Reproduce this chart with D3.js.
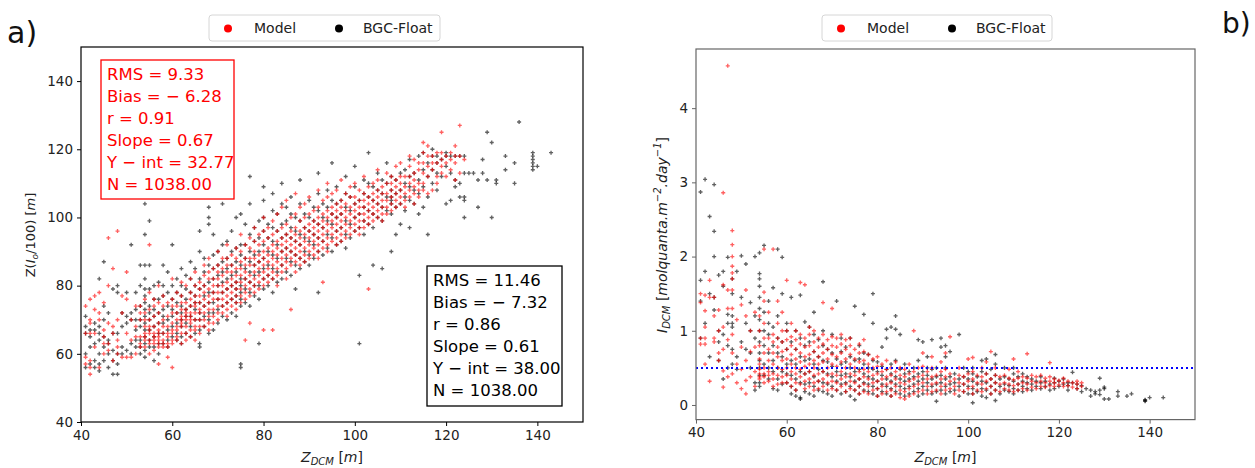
<!DOCTYPE html>
<html lang="en">
<head>
<meta charset="UTF-8">
<script src="https://d3js.org/d3.v7.min.js"></script>
<title>DCM scatter</title>
<style>
  body { margin: 0; background: #fff; }
  svg text { font-family: "DejaVu Sans", sans-serif; }
</style>
</head>
<body>
<svg id="fig" width="1255" height="468"></svg>
<script>
// ---- data: each entry is [Z_DCM, [values at that depth]] ----
const modelA = [
  [41,[57,59,66,74]],[42,[54,56,58,66,69,70,76]],[43,[62,66,73,77]],[44,[56,70,72,78]],
  [45,[60,63,65,67,75]],[46,[61,63,69,80,94]],[47,[58,66,68,85]],[48,[60,62,64,70,96]],
  [49,[59,72,77]],[50,[59,66,76,84]],[51,[59,64,70]],[52,[60,65,68,74]],
  [53,[62,63,65,70,72,74]],[54,[62,64,65,66,68,70,72,76]],[55,[60,63,64,66,67,68,70,73,78,92]],
  [56,[61,63,64,65,66,68,71,74,76]],[57,[57,62,63,64,65,66,67,69,72,75,80]],
  [58,[62,63,64,66,68,70,74,77]],[59,[59,62,63,65,66,68,71,75]],[60,[56,63,64,66,67,69,72,74,76,82]],
  [61,[64,65,67,68,70,72,74,78]],[62,[63,66,68,69,70,71,73,75,77,81]],[63,[64,66,68,70,71,72,73,75,80]],
  [64,[65,67,69,70,71,72,74,76,78,82]],[65,[64,67,68,70,72,74,75,77,80,84]],[66,[66,68,70,72,73,75,77,79,81]],
  [67,[68,70,72,74,76,78,80,83,86]],[68,[67,69,71,73,75,77,79,82,84,88]],[69,[69,71,73,76,78,80,82,85]],
  [70,[70,72,74,76,78,80,82,84,86,90]],[71,[72,74,76,78,80,83,85,88]],[72,[71,73,75,77,79,81,84,86,88,92]],
  [73,[74,76,78,80,82,84,86,89]],[74,[73,75,77,79,81,83,85,88,91]],[75,[75,77,79,81,83,85,87,90,95]],
  [76,[64,76,78,80,82,84,86,88,92]],[77,[69,77,79,81,83,86,88,91,94]],[78,[78,80,82,84,86,88,90,93,97]],
  [79,[79,81,83,85,87,89,92,95]],[80,[67,80,82,84,86,88,90,93,96,100]],[81,[81,83,85,87,89,91,94,97]],
  [82,[67,82,84,86,88,90,92,95,99]],[83,[80,83,85,87,89,91,93,96,101]],[84,[84,86,88,90,92,94,97,103]],
  [85,[82,85,87,89,91,93,95,98,105]],[86,[73,86,88,90,92,94,96,100]],[87,[84,87,89,91,93,95,97,101,107]],
  [88,[86,88,90,92,94,96,99,103]],[89,[87,89,91,93,95,97,100,104]],[90,[88,90,92,94,96,98,101,106]],
  [91,[89,91,93,95,97,99,102]],[92,[88,90,92,94,96,98,100,103,108]],[93,[81,91,93,95,97,99,101,105]],
  [94,[90,92,94,96,98,100,102,106,110]],[95,[93,95,97,99,101,103,107]],[96,[92,94,96,98,100,102,104,108]],
  [97,[93,95,97,99,101,103,105,111]],[98,[94,96,98,100,102,104,107]],[99,[95,97,99,101,103,106,109]],
  [100,[96,98,100,102,104,106,110]],[101,[95,97,99,101,103,105,108]],[102,[97,99,101,103,105,107,112]],
  [103,[79,98,100,102,104,106,109]],[104,[99,101,103,105,107,110]],[105,[100,102,104,106,108,111,114]],
  [106,[99,101,103,105,107,109]],[107,[101,103,105,107,110,113]],[108,[102,104,106,108,110,112]],
  [109,[103,105,107,109,111,115]],[110,[104,106,108,110,112,116]],[111,[103,105,107,109,112]],
  [112,[106,108,110,112,115,118]],[113,[104,107,109,111,113,117]],[114,[106,108,110,114,116]],
  [115,[108,110,113,116,119,122]],[116,[107,112,115,118,121]],[117,[108,114,116,118]],
  [118,[110,112,116,119]],[119,[113,115,117,119,125]],[120,[112,116,118]],[121,[114,117,119]],
  [122,[111,116,118,121]],[123,[113,118,127]],[124,[117]]
];
const floatA = [
  [41,[56,60,66,68,71]],[42,[57,62,65,67]],[43,[56,58,63,67,69]],[44,[55,57,60,64,66,68,82]],
  [45,[58,62,65,70,74,87]],[46,[56,60,63,64,72]],[47,[54,58,61,66,79]],[48,[54,57,60,66,78,80]],
  [49,[60,62,68,72]],[50,[61,69,71,78]],[51,[60,63,70,72,92]],[52,[62,64,67,70,73,78]],
  [53,[60,62,64,68,70,74,80,86]],[54,[59,61,63,65,67,69,71,73,75,77,79,82,86,95,104,107]],
  [55,[62,64,67,70,72,74,79,86,99]],[56,[58,62,65,68,71,73,76,80]],[57,[60,63,66,69,72,76,81]],
  [58,[63,66,69,71,73,77,80,86]],[59,[62,64,67,70,74,78,84]],[60,[65,68,71,73,76,80,92]],
  [61,[64,66,69,72,75,78,82]],[62,[63,65,68,70,72,74,77,80,85]],[63,[66,69,71,73,76,79,83]],
  [64,[65,68,71,74,78,82,87]],[65,[66,70,73,75,77,80,85]],[66,[62,63,67,70,72,75,79,82,90,96]],
  [67,[68,71,74,77,80,84,88]],[68,[66,70,72,75,78,81,86,98,100,103,106]],[69,[67,72,75,78,82,85,89,95]],
  [70,[69,73,76,80,83,86,90]],[71,[71,74,78,81,84,87,92,104]],[72,[70,75,79,82,85,88,93]],
  [73,[72,76,80,83,86,90,96]],[74,[71,75,77,79,81,84,87,91,100]],[75,[56,57,74,76,78,80,82,86,89,92,101]],
  [76,[75,79,82,85,88,92,98]],[77,[74,78,81,84,87,90,95,104,112]],[78,[77,80,83,86,89,93,97]],
  [79,[63,76,80,84,87,90,94,99]],[80,[79,82,85,88,92,96,100,105,109]],[81,[80,83,86,90,94,98]],
  [82,[78,82,85,89,93,97,102,107]],[83,[81,84,88,92,96,101]],[84,[82,86,90,94,98,104,110]],
  [85,[84,88,91,95,99,103]],[86,[83,87,90,94,97,101,106]],[87,[79,86,89,93,96,100]],
  [88,[85,88,92,95,99,104,111]],[89,[87,90,94,97,101]],[90,[86,89,93,96,100,105]],
  [91,[88,92,95,99,103]],[92,[78,90,94,98,102,107,113]],[93,[89,93,97,100,104]],
  [94,[91,95,99,103,108]],[95,[90,94,98,101,105,116]],[96,[92,96,100,104,109]],
  [97,[93,97,101,105]],[98,[91,95,99,103,107,112]],[99,[94,98,102,106]],
  [100,[96,100,104,109,115]],[101,[63,83,97,101,105]],[102,[95,99,103,107,111]],
  [103,[98,102,106,110,119]],[104,[86,97,101,105,109]],[105,[100,104,108,113]],
  [106,[85,99,103,107,111]],[107,[102,106,110,116]],[108,[90,101,104,105,106,108,112]],
  [109,[95,103,107,111]],[110,[98,104,108,113]],[111,[102,106,110,114]],[112,[97,105,109,112,117]],
  [113,[104,108,113]],[114,[101,107,111,118]],[115,[103,109,114,119]],[116,[95,106,112,116]],
  [117,[110,114,118,120]],[118,[108,113,116,118]],[119,[112,117]],[120,[104,115,118,119]],
  [121,[105,113,118]],[122,[109,111,118]],[123,[106,110,118]],[124,[100,105,106,113,118]],
  [125,[113]],[126,[113]],[127,[103,111]],[128,[113,117]],[129,[111,125]],[130,[100,122]],
  [131,[110,111]],[133,[114,118]],[135,[110,116]],[136,[128]],
  [139,[114,115,116,117,118,119]],[140,[115]],[143,[119]]
];
const modelB = [
  [41,[0.82,0.9,1.38,1.5]],[42,[0.55,0.82,0.9,1.05,1.27,1.48]],[43,[0.32,1.45,1.68]],[44,[0.85,0.9,1.2,1.45]],
  [45,[0.6,0.7,1.0,1.28]],[46,[0.24,0.46,0.75,1.05,1.62,2.86]],[47,[0.38,0.88,1.3,1.55,4.57]],
  [48,[0.42,0.7,0.95,1.3,1.55,1.7,1.78,1.87,2.0,2.16,2.35]],[49,[0.3,0.55,1.15]],[50,[0.22,0.48,0.78,1.35]],
  [51,[0.15,0.33,0.6,1.2,1.55]],[52,[0.38,0.72,1.0]],[53,[0.25,0.45,0.78,1.25]],
  [54,[0.35,0.38,0.42,0.48,0.55,0.62,0.8,1.0,1.2]],[55,[0.3,0.38,0.42,0.5,0.7,0.9,1.1,1.4,1.52,2.1]],
  [56,[0.32,0.4,0.45,0.6,0.75,0.9,1.25]],[57,[0.25,0.35,0.42,0.55,0.7,0.85,0.95,2.1]],
  [58,[0.28,0.4,0.5,0.65,0.78,0.9,1.1,1.4]],[59,[0.3,0.38,0.48,0.6,0.72,0.85,1.0,1.25]],
  [60,[0.3,0.4,0.5,0.62,0.75,0.88,1.0,1.68]],[61,[0.25,0.35,0.45,0.55,0.68,0.8,0.92,1.1]],
  [62,[0.2,0.3,0.42,0.5,0.62,0.75,0.88,1.0]],[63,[0.28,0.38,0.48,0.58,0.7,0.82,0.95,1.65]],
  [64,[0.22,0.32,0.42,0.52,0.65,0.78,0.9,1.62]],[65,[0.25,0.35,0.45,0.55,0.68,0.8,0.95,1.05]],
  [66,[0.2,0.3,0.4,0.5,0.6,0.72,0.85,1.0]],[67,[0.22,0.32,0.42,0.55,0.65,0.78,0.9]],
  [68,[0.25,0.35,0.45,0.58,0.7,0.82,0.95,1.38]],[69,[0.2,0.3,0.4,0.5,0.62,0.75,0.88]],
  [70,[0.22,0.32,0.42,0.55,0.68,0.8,0.92,1.3]],[71,[0.2,0.3,0.4,0.52,0.65,0.78,0.9]],
  [72,[0.25,0.35,0.45,0.58,0.7,0.82,0.95]],[73,[0.18,0.28,0.38,0.5,0.62,0.75,0.88]],
  [74,[0.22,0.32,0.42,0.55,0.68,0.8,0.9]],[75,[0.2,0.3,0.4,0.5,0.62,0.75]],
  [76,[0.15,0.25,0.35,0.45,0.58,0.7,0.82]],[77,[0.18,0.28,0.38,0.48,0.6,0.72,0.88]],
  [78,[0.15,0.25,0.35,0.45,0.55,0.68]],[79,[0.2,0.3,0.4,0.5,0.62]],[80,[0.12,0.22,0.32,0.42,0.52,0.65]],
  [81,[0.15,0.25,0.35,0.45,0.55]],[82,[0.18,0.28,0.38,0.48,0.6]],[83,[0.12,0.2,0.3,0.4,0.5]],
  [84,[0.15,0.25,0.35,0.45,0.58]],[85,[0.1,0.2,0.3,0.4,0.5]],[86,[0.08,0.18,0.28,0.38,0.48]],
  [87,[0.12,0.22,0.32,0.42,0.55]],[88,[0.15,0.25,0.35,0.45,1.0]],[89,[0.18,0.28,0.38,0.5]],
  [90,[0.2,0.3,0.4,0.52,0.7]],[91,[0.15,0.25,0.35,0.45]],[92,[0.18,0.28,0.38,0.5,0.65]],
  [93,[0.2,0.3,0.4]],[94,[0.15,0.25,0.35,0.45,0.58]],[95,[0.2,0.28,0.38,0.48,0.7]],
  [96,[0.22,0.32,0.42,0.92]],[97,[0.15,0.25,0.35]],[98,[0.2,0.3,0.4,0.5]],[99,[0.18,0.28,0.38]],
  [100,[0.22,0.32,0.42,0.62]],[101,[0.15,0.25,0.35,0.45,0.64]],[102,[0.2,0.3,0.4]],
  [103,[0.18,0.28,0.38,0.5]],[104,[0.22,0.32,0.42,0.58]],[105,[0.15,0.25,0.35,0.72]],
  [106,[0.2,0.3,0.4,0.5]],[107,[0.18,0.28,0.38]],[108,[0.22,0.3,0.4]],[109,[0.2,0.28,0.36,0.48]],
  [110,[0.18,0.26,0.34,0.62]],[111,[0.2,0.28,0.36,0.45]],[112,[0.22,0.3,0.38]],[113,[0.2,0.28,0.36,0.69]],
  [114,[0.24,0.32,0.4]],[115,[0.22,0.3,0.38]],[116,[0.25,0.32,0.4]],[117,[0.24,0.3,0.36]],
  [118,[0.26,0.32,0.38,0.57]],[119,[0.25,0.3,0.35]],[120,[0.27,0.33]],[121,[0.25,0.3,0.36]],
  [122,[0.26,0.32]],[123,[0.24,0.3]],[124,[0.22,0.28,0.32]],[125,[0.25,0.3]]
];
const floatB = [
  [41,[0.9,1.4,1.68,2.87]],[42,[1.1,1.8,3.04]],[43,[0.65,1.5,2.54]],[44,[1.28,1.45,2.0,2.34,2.97]],
  [45,[0.6,0.85,1.0,1.75]],[46,[0.35,0.95,1.6,1.8]],[47,[0.5,0.8,1.1,1.22,1.99]],
  [48,[0.55,0.75,1.05,1.1,1.2,1.5,1.7]],[49,[0.48,0.65,1.8]],[50,[0.85,1.45,2.01]],[51,[0.75,1.1,1.9]],
  [52,[0.5,0.7,1.0,1.38]],[53,[0.2,0.3,0.9,1.2,2.0]],
  [54,[0.25,0.3,0.4,0.5,0.6,0.7,0.85,1.0,1.15,1.3,1.45,1.6,1.7,1.77,2.05]],
  [55,[0.4,0.55,0.8,1.0,1.25,2.15]],[56,[0.35,0.5,0.7,0.95,1.1,1.4]],[57,[0.22,0.45,0.6,0.8,1.05,1.58]],
  [58,[0.2,0.35,0.5,0.7,0.9,1.2,2.1]],[59,[0.28,0.45,0.65,0.85,1.5,1.99]],[60,[0.3,0.42,0.55,0.75,1.0,1.1]],
  [61,[0.15,0.25,0.4,0.6,0.85,1.45]],[62,[0.12,0.2,0.35,0.55,0.75,1.0]],[63,[0.08,0.1,0.3,0.45,0.65,0.9,1.48]],
  [64,[0.18,0.28,0.42,0.6,0.8,1.12]],[65,[0.15,0.3,0.45,0.62,0.85,1.05]],[66,[0.12,0.25,0.38,0.55,0.72,0.95,1.25]],
  [67,[0.2,0.32,0.48,0.65,0.88]],[68,[0.18,0.3,0.45,0.6,0.8,1.0,1.66]],[69,[0.15,0.28,0.42,0.58,0.75]],
  [70,[0.12,0.25,0.38,0.52,0.7,0.95]],[71,[0.2,0.32,0.45,0.62,1.4]],[72,[0.15,0.28,0.4,0.55,0.72,0.9]],
  [73,[0.18,0.3,0.42,0.58,0.78]],[74,[0.12,0.25,0.38,0.5,0.65,0.9]],[75,[0.07,0.2,0.32,0.45,0.6,1.33]],
  [76,[0.15,0.25,0.35,0.48,0.62,0.8]],[77,[0.2,0.3,0.42,0.55,0.7,1.22]],[78,[0.18,0.28,0.38,0.5,0.68]],
  [79,[0.15,0.25,0.35,0.48,0.6,1.1,1.5]],[80,[0.12,0.22,0.32,0.45,0.58]],[81,[0.18,0.28,0.4,0.52,0.78]],
  [82,[0.15,0.25,0.35,0.48,0.9,1.02]],[83,[0.12,0.22,0.32,0.42,0.55,1.05]],[84,[0.18,0.28,0.38,0.6,1.02,1.2]],
  [85,[0.15,0.25,0.35,0.48,0.95]],[86,[0.12,0.22,0.32,0.42,0.55]],[87,[0.15,0.25,0.35,0.45]],
  [88,[0.18,0.28,0.38,0.5]],[89,[0.12,0.22,0.32,0.42,0.6,0.88]],[90,[0.15,0.25,0.35,0.45,0.85]],
  [91,[0.2,0.3,0.4,0.5,0.65]],[92,[0.15,0.25,0.35,0.48,0.88]],[93,[0.05,0.18,0.28,0.38,0.5]],
  [94,[0.2,0.3,0.4,0.78,0.9]],[95,[0.15,0.25,0.35,0.5,0.65,0.8]],[96,[0.18,0.28,0.38,0.72]],
  [97,[0.2,0.3,0.42]],[98,[0.12,0.25,0.35,0.95]],[99,[0.18,0.28,0.38,0.5]],[100,[0.15,0.25,0.35,0.45]],
  [101,[0.03,0.15,0.22,0.32,0.42,0.5]],[102,[0.18,0.28,0.38]],[103,[0.12,0.22,0.32,0.45,0.6]],
  [104,[0.1,0.2,0.3,0.42,0.62]],[105,[0.15,0.25,0.35,0.48]],[106,[0.06,0.2,0.3,0.4,0.55,0.68]],
  [107,[0.15,0.25,0.35]],[108,[0.2,0.28,0.38,0.5]],[109,[0.18,0.26,0.35]],[110,[0.15,0.22,0.32,0.42,0.5]],
  [111,[0.2,0.28,0.38]],[112,[0.18,0.25,0.32,0.42]],[113,[0.22,0.3,0.38]],[114,[0.2,0.28,0.35]],
  [115,[0.25,0.32]],[116,[0.22,0.3,0.38]],[117,[0.25,0.32]],[118,[0.2,0.28]],[119,[0.22,0.3,0.36]],
  [120,[0.25,0.32]],[121,[0.28,0.35]],[122,[0.2,0.26,0.3]],[123,[0.3,0.44]],[124,[0.22,0.28]],
  [125,[0.18,0.26]],[126,[0.22]],[127,[0.12,0.2]],[128,[0.15,0.18]],[129,[0.14,0.2,0.36]],
  [130,[0.08,0.22,0.24]],[131,[0.08]],[133,[0.12,0.18]],[135,[0.12]],[136,[0.15]],
  [139,[0.05,0.06,0.07]],[140,[0.1]],[143,[0.1]]
];

const statsModel = ["RMS = 9.33", "Bias = \u2212 6.28", "r = 0.91", "Slope = 0.67", "Y \u2212 int = 32.77", "N = 1038.00"];
const statsFloat = ["RMS = 11.46", "Bias = \u2212 7.32", "r = 0.86", "Slope = 0.61", "Y \u2212 int = 38.00", "N = 1038.00"];
const ticksX = [40, 60, 80, 100, 120, 140];
const ticksYa = [40, 60, 80, 100, 120, 140];
const ticksYb = [0, 1, 2, 3, 4];
const legendNames = ["Model", "BGC-Float"];
const threshold = 0.5;

const flat = cols => cols.flatMap(([x, ys]) => ys.map(y => ({x, y})));

const svg = d3.select("#fig");
const cross = d3.symbol().type(d3.symbolCross).size(9);

function panel(opt) {
  const x = d3.scaleLinear().domain(opt.xd).range([opt.left, opt.right]);
  const y = d3.scaleLinear().domain(opt.yd).range([opt.bottom, opt.top]);
  const g = svg.append("g");

  // points
  [[opt.floatData, "#000"], [opt.modelData, "#ff0000"]].forEach(([d, c]) => {
    g.append("g").selectAll("path").data(flat(d)).join("path")
      .attr("d", cross)
      .attr("transform", p => `translate(${x(p.x)},${y(p.y)})`)
      .attr("fill", c).attr("opacity", 0.62);
  });

  if (opt.hline != null) {
    g.append("line")
      .attr("x1", opt.left).attr("x2", opt.right)
      .attr("y1", y(opt.hline)).attr("y2", y(opt.hline))
      .attr("stroke", "#0000ff").attr("stroke-width", 2)
      .attr("stroke-dasharray", "2,3");
  }

  const ax = g.append("g").attr("transform", `translate(0,${opt.bottom})`)
    .call(d3.axisBottom(x).tickValues(ticksX).tickFormat(d3.format("d")).tickSize(4).tickPadding(4));
  const ay = g.append("g").attr("transform", `translate(${opt.left},0)`)
    .call(d3.axisLeft(y).tickValues(opt.yticks).tickFormat(d3.format("d")).tickSize(4).tickPadding(4));
  [ax, ay].forEach(a => {
    a.select(".domain").remove();
    a.selectAll("line").attr("stroke", opt.frame);
    a.selectAll("text").attr("font-size", 13.5).attr("fill", "#222")
      .attr("font-family", "DejaVu Sans");
  });

  g.append("rect").attr("x", opt.left).attr("y", opt.top)
    .attr("width", opt.right - opt.left).attr("height", opt.bottom - opt.top)
    .attr("fill", "none").attr("stroke", opt.frame).attr("stroke-width", 1.2);

  // x label  Z_DCM [m]
  const xl = g.append("text").attr("x", (opt.left + opt.right) / 2).attr("y", 462)
    .attr("text-anchor", "middle").attr("font-size", 14).attr("fill", "#222");
  xl.append("tspan").attr("font-style", "italic").text("Z");
  xl.append("tspan").attr("font-style", "italic").attr("font-size", 10).attr("dy", 3).text("DCM");
  xl.append("tspan").attr("dy", -3).text(" [");
  xl.append("tspan").attr("font-style", "italic").text("m");
  xl.append("tspan").text("]");

  // legend
  const lg = g.append("g");
  lg.append("rect").attr("x", opt.leg[0]).attr("y", 15).attr("width", opt.leg[1]).attr("height", 26)
    .attr("rx", 3).attr("fill", "#fff").attr("stroke", "#d6d6d6");
  legendNames.forEach((n, i) => {
    lg.append("circle").attr("cx", opt.leg[2 + i * 2]).attr("cy", 28.5).attr("r", 4)
      .attr("fill", i ? "#000" : "#ff0000");
    lg.append("text").attr("x", opt.leg[3 + i * 2]).attr("y", 33).attr("font-size", 14)
      .attr("fill", "#222").text(n);
  });
  return {x, y, g};
}

// ---------- panel a ----------
const A = panel({
  left: 81, right: 583, top: 47, bottom: 422, xd: [40, 150], yd: [40, 150],
  yticks: ticksYa, modelData: modelA, floatData: floatA, frame: "#000",
  leg: [209, 231, 228, 254, 339, 363]
});

function statBox(g, lines, bx, by, w, h, col) {
  g.append("rect").attr("x", bx).attr("y", by).attr("width", w).attr("height", h)
    .attr("fill", "#fff").attr("stroke", col).attr("stroke-width", 1.3);
  lines.forEach((t, i) => {
    g.append("text").attr("x", bx + 6).attr("y", by + 20 + i * 22)
      .attr("font-size", 16.5).attr("fill", col).text(t);
  });
}
statBox(A.g, statsModel, 101, 60, 133, 139, "#ff0000");
statBox(A.g, statsFloat, 427, 266, 135, 140, "#000");

// y label a: Z(I_o/100) [m]
const yla = A.g.append("text").attr("transform", "translate(35,235) rotate(-90)")
  .attr("text-anchor", "middle").attr("font-size", 13).attr("fill", "#222");
yla.append("tspan").text("Z(");
yla.append("tspan").attr("font-style", "italic").text("I");
yla.append("tspan").attr("font-style", "italic").attr("font-size", 9).attr("dy", 3).text("o");
yla.append("tspan").attr("dy", -3).text("/100) [");
yla.append("tspan").attr("font-style", "italic").text("m");
yla.append("tspan").text("]");

// ---------- panel b ----------
const B = panel({
  left: 696, right: 1195, top: 49, bottom: 419.6, xd: [40, 150], yd: [-0.197, 4.797],
  yticks: ticksYb, modelData: modelB, floatData: floatB, frame: "#666", hline: threshold,
  leg: [822, 230, 841, 867, 952, 976]
});

const ylb = B.g.append("text").attr("transform", "translate(667,235) rotate(-90)")
  .attr("text-anchor", "middle").attr("font-size", 14).attr("fill", "#222");
ylb.append("tspan").attr("font-style", "italic").text("I");
ylb.append("tspan").attr("font-style", "italic").attr("font-size", 10).attr("dy", 3).text("DCM");
ylb.append("tspan").attr("dy", -3).text(" [");
ylb.append("tspan").attr("font-style", "italic").text("molquanta.m");
ylb.append("tspan").attr("font-style", "italic").attr("font-size", 10).attr("dy", -6).text("\u22122");
ylb.append("tspan").attr("font-style", "italic").attr("dy", 6).text(".day");
ylb.append("tspan").attr("font-style", "italic").attr("font-size", 10).attr("dy", -6).text("\u22121");
ylb.append("tspan").attr("dy", 6).text("]");

// panel letters
svg.append("text").attr("x", 7).attr("y", 43).attr("font-size", 30)
  .attr("font-family", "Liberation Sans").attr("fill", "#111").text("a)");
svg.append("text").attr("x", 1222).attr("y", 33).attr("font-size", 28)
  .attr("font-family", "Liberation Sans").attr("fill", "#111").text("b)");
</script>
</body>
</html>
